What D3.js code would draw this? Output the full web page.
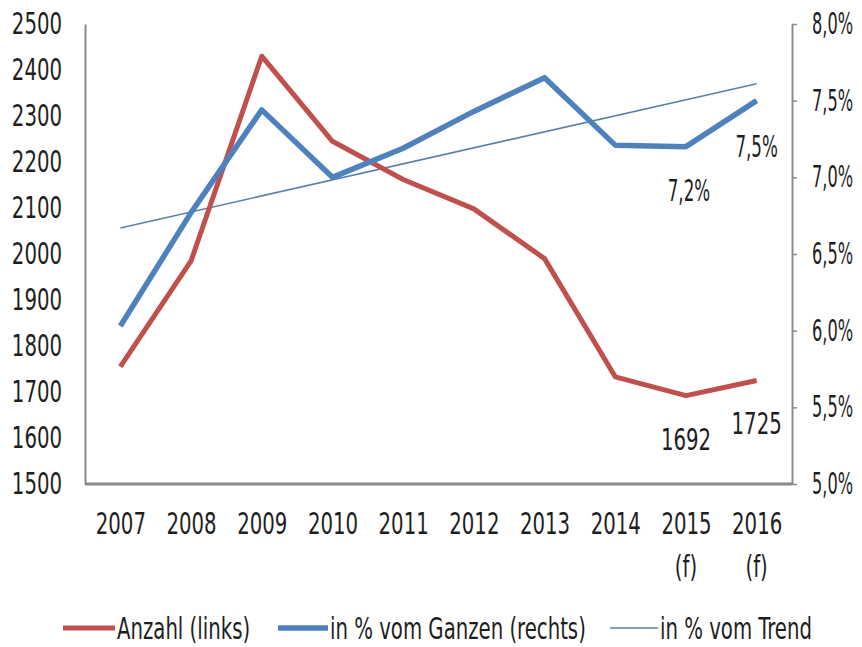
<!DOCTYPE html>
<html>
<head>
<meta charset="utf-8">
<script src="https://cdn.jsdelivr.net/npm/d3@7"></script>
<style>
  body { margin: 0; background: #fff; }
  text { font-family: "DejaVu Sans Condensed", "DejaVu Sans", sans-serif; fill: #1e1e1e; }
</style>
</head>
<body>
<div id="chart"></div>
<script>
// Data
const years = ['2007', '2008', '2009', '2010', '2011', '2012', '2013', '2014', '2015', '2016']
const yearNotes = ['', '', '', '', '', '', '', '', '(f)', '(f)']
const anzahl = [1755, 1985, 2430, 2245, 2162, 2098, 1990, 1733, 1692, 1725]
const anteil = [6.03, 6.77, 7.44, 7.0, 7.19, 7.43, 7.65, 7.21, 7.2, 7.5]
const trend = [6.67, 7.61]
const leftTicks = [1500, 1600, 1700, 1800, 1900, 2000, 2100, 2200, 2300, 2400, 2500]
const rightTicks = [5.0, 5.5, 6.0, 6.5, 7.0, 7.5, 8.0]

// Initialization
const width = 862
const height = 647
const plotLeft = 85
const plotRight = 792
const plotTop = 24
const plotBottom = 484

const svg = d3.select('#chart').append('svg')
  .attr('width', width)
  .attr('height', height)

const x = d3.scalePoint().domain(years).range([plotLeft, plotRight]).padding(0.5)
const yLeft = d3.scaleLinear().domain([1500, 2500]).range([plotBottom, plotTop])
const yRight = d3.scaleLinear().domain([5, 8]).range([plotBottom, plotTop])

const fmtPct = d => d3.format('.1f')(d).replace('.', ',') + '%'

// Squeeze text so it looks like the narrow font of the original
function condense(sel, size, factor) {
  sel.style('font-size', `${size}px`).each(function() {
    const w = this.getComputedTextLength()
    if (w > 0) {
      d3.select(this)
        .attr('textLength', w * factor)
        .attr('lengthAdjust', 'spacingAndGlyphs')
    }
  })
}

// Keep the same visual place but anchor at the right end
function anchorEnd(sel) {
  sel.each(function() {
    const t = d3.select(this)
    const x0 = +t.attr('x') || 0
    t.attr('x', x0 + +t.attr('textLength')).attr('text-anchor', 'end')
  })
}

// Axes
const axisLeft = svg.append('g')
  .attr('transform', `translate(${plotLeft},0)`)
  .call(d3.axisLeft(yLeft).tickValues(leftTicks).tickSize(0).tickPadding(23).tickFormat(d3.format('d')))
axisLeft.select('.domain').attr('stroke', '#8a8a8a').attr('stroke-width', 2)
condense(axisLeft.selectAll('text'), 30, 0.73)

const axisRight = svg.append('g')
  .attr('transform', `translate(${plotRight},0)`)
  .call(d3.axisRight(yRight).tickValues(rightTicks).tickSize(5).tickSizeOuter(0).tickPadding(15).tickFormat(fmtPct))
axisRight.select('.domain').attr('stroke', '#8a8a8a').attr('stroke-width', 2)
axisRight.selectAll('line').attr('stroke', '#8a8a8a').attr('stroke-width', 1.5)
condense(axisRight.selectAll('text'), 30, 0.6)
anchorEnd(axisRight.selectAll('text'))

// Bottom axis line
svg.append('line')
  .attr('x1', plotLeft).attr('x2', plotRight)
  .attr('y1', plotBottom).attr('y2', plotBottom)
  .attr('stroke', '#8a8a8a').attr('stroke-width', 3)

const axisBottom = svg.append('g')
  .attr('transform', `translate(0,${plotBottom})`)
  .call(d3.axisBottom(x).tickSize(0).tickPadding(29))
axisBottom.select('.domain').remove()
condense(axisBottom.selectAll('text'), 30, 0.73)

const notes = svg.selectAll('.note')
  .data(years)
  .enter()
  .append('text')
  .attr('class', 'note')
  .attr('x', d => x(d))
  .attr('y', plotBottom + 93)
  .attr('text-anchor', 'middle')
  .text((_, i) => yearNotes[i])
condense(notes, 30, 0.73)

// Lines
const lineLeft = d3.line().x((_, i) => x(years[i])).y(d => yLeft(d))
const lineRight = d3.line().x((_, i) => x(years[i])).y(d => yRight(d))

svg.append('path')
  .attr('d', d3.line().x((_, i) => x(years[i * (years.length - 1)])).y(d => yRight(d))(trend))
  .attr('fill', 'none')
  .attr('stroke', '#5b80aa')
  .attr('stroke-width', 1.6)

svg.append('path')
  .attr('d', lineLeft(anzahl))
  .attr('fill', 'none')
  .attr('stroke', '#c0504d')
  .attr('stroke-width', 5)
  .attr('stroke-linejoin', 'round')

svg.append('path')
  .attr('d', lineRight(anteil))
  .attr('fill', 'none')
  .attr('stroke', '#4f81bd')
  .attr('stroke-width', 5.5)
  .attr('stroke-linejoin', 'round')

// Data labels
const labels = [
  { text: '1692', x: x('2015'), y: yLeft(1692) + 54, f: 0.73 },
  { text: '1725', x: x('2016'), y: yLeft(1725) + 53, f: 0.73 },
  { text: fmtPct(7.2), x: x('2015') + 3, y: yRight(7.2) + 54, f: 0.62 },
  { text: fmtPct(7.5), x: x('2016'), y: yRight(7.5) + 56, f: 0.62 }
]
svg.selectAll('.label')
  .data(labels)
  .enter()
  .append('text')
  .attr('class', 'label')
  .attr('x', d => d.x)
  .attr('y', d => d.y)
  .attr('text-anchor', 'middle')
  .text(d => d.text)
  .each(function(d) { condense(d3.select(this), 30, d.f) })

// Legend
const legendItems = [
  { name: 'Anzahl (links)', color: '#c0504d', w: 5, x: 63, len: 52 },
  { name: 'in % vom Ganzen (rechts)', color: '#4f81bd', w: 5.5, x: 278, len: 50 },
  { name: 'in % vom Trend', color: '#5b80aa', w: 1.6, x: 610, len: 48 }
]
const legend = svg.append('g').attr('transform', 'translate(0,628)')
legend.selectAll('line')
  .data(legendItems)
  .enter()
  .append('line')
  .attr('x1', d => d.x).attr('x2', d => d.x + d.len)
  .attr('y1', 0).attr('y2', 0)
  .attr('stroke', d => d.color)
  .attr('stroke-width', d => d.w)
const legendText = legend.selectAll('text')
  .data(legendItems)
  .enter()
  .append('text')
  .attr('x', d => d.x + d.len + 2)
  .attr('y', 11)
  .text(d => d.name)
condense(legendText, 30, 0.73)
anchorEnd(legendText)
</script>
</body>
</html>
